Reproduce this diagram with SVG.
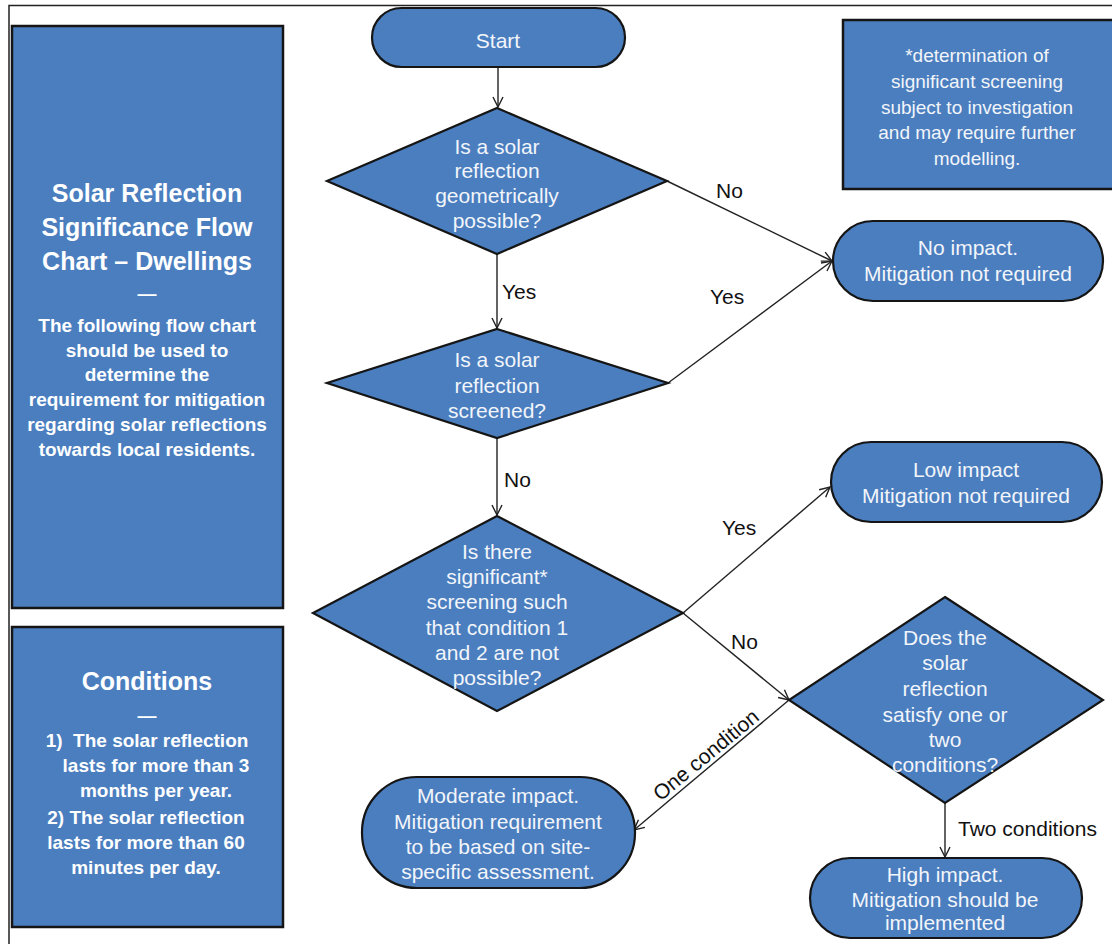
<svg xmlns="http://www.w3.org/2000/svg" width="1112" height="944" viewBox="0 0 1112 944">
<defs>
<marker id="arr" viewBox="0 0 12 12" refX="11" refY="6" markerWidth="12" markerHeight="12" markerUnits="userSpaceOnUse" orient="auto">
<path d="M1,1 L11,6 L1,11" fill="none" stroke="#222" stroke-width="1.4"/>
</marker>
<style>
.shape{fill:#4a7ebf;stroke:#151515;stroke-width:2.2}
.box{fill:#4a7ebf;stroke:#151515;stroke-width:2.5}
.t{font-family:"Liberation Sans",Arial,sans-serif;font-size:21px;fill:#f2f5fa;text-anchor:middle}
.note{font-family:"Liberation Sans",Arial,sans-serif;font-size:19px;fill:#f2f5fa;text-anchor:middle}
.title{font-family:"Liberation Sans",Arial,sans-serif;font-size:25px;font-weight:bold;fill:#ffffff;text-anchor:middle}
.body{font-family:"Liberation Sans",Arial,sans-serif;font-size:19px;font-weight:bold;fill:#ffffff;text-anchor:middle;white-space:pre}
.lbl{font-family:"Liberation Sans",Arial,sans-serif;font-size:21px;fill:#111}
.conn{fill:none;stroke:#222;stroke-width:1.4}
</style>
</defs>
<rect width="1112" height="944" fill="#ffffff"/>
<path d="M9,944 L9,5.5 L1112,5.5" fill="none" stroke="#222" stroke-width="1.5"/>

<g id="connectors">
<line class="conn" x1="498" y1="67" x2="498" y2="107" marker-end="url(#arr)"/>
<line class="conn" x1="497" y1="254" x2="497" y2="328" marker-end="url(#arr)"/>
<line class="conn" x1="497" y1="438" x2="497" y2="515" marker-end="url(#arr)"/>
<line class="conn" x1="667" y1="181" x2="832" y2="261" marker-end="url(#arr)"/>
<line class="conn" x1="668" y1="383" x2="832" y2="261" marker-end="url(#arr)"/>
<line class="conn" x1="683" y1="613" x2="830" y2="487" marker-end="url(#arr)"/>
<line class="conn" x1="683" y1="613" x2="789" y2="700" marker-end="url(#arr)"/>
<line class="conn" x1="789" y1="700" x2="634" y2="830" marker-end="url(#arr)"/>
<line class="conn" x1="945" y1="803" x2="945" y2="857" marker-end="url(#arr)"/>
<text class="lbl" x="502" y="299">Yes</text>
<text class="lbl" x="716" y="198">No</text>
<text class="lbl" x="710" y="304">Yes</text>
<text class="lbl" x="504" y="487">No</text>
<text class="lbl" x="722" y="535">Yes</text>
<text class="lbl" x="731" y="649">No</text>
<text class="lbl" x="958" y="836">Two conditions</text>
<text class="lbl" x="706" y="762" text-anchor="middle" transform="rotate(-39.6 706 755)">One condition</text>
</g>

<g id="title-box">
<rect class="box" x="12" y="26" width="271" height="582"/>
<text class="title" x="147" y="202">Solar Reflection</text>
<text class="title" x="147" y="236">Significance Flow</text>
<text class="title" x="147" y="270">Chart – Dwellings</text>
<text class="body" x="147" y="300">—</text>
<text class="body" x="147" y="332">The following flow chart</text>
<text class="body" x="147" y="357">should be used to</text>
<text class="body" x="147" y="381">determine the</text>
<text class="body" x="147" y="406">requirement for mitigation</text>
<text class="body" x="147" y="431">regarding solar reflections</text>
<text class="body" x="147" y="456">towards local residents.</text>
</g>

<g id="conditions-box">
<rect class="box" x="12" y="627" width="271" height="300"/>
<text class="title" x="147" y="690">Conditions</text>
<text class="body" x="147" y="722">—</text>
<text class="body" x="147" y="747">1)  The solar reflection</text>
<text class="body" x="156" y="772">lasts for more than 3</text>
<text class="body" x="156" y="797">months per year.</text>
<text class="body" x="146" y="824">2) The solar reflection</text>
<text class="body" x="146" y="849">lasts for more than 60</text>
<text class="body" x="146" y="874">minutes per day.</text>
</g>

<g id="note-box">
<rect class="box" x="843" y="20" width="275" height="169"/>
<text class="note" x="977" y="62">*determination of</text>
<text class="note" x="977" y="88">significant screening</text>
<text class="note" x="977" y="114">subject to investigation</text>
<text class="note" x="977" y="139">and may require further</text>
<text class="note" x="977" y="165">modelling.</text>
</g>

<g id="start">
<rect class="shape" x="372" y="8" width="253" height="59" rx="29.5"/>
<text class="t" x="498" y="48">Start</text>
</g>

<g id="q1">
<polygon class="shape" points="497,108 667,181 497,254 327,181"/>
<text class="t" x="497" y="154">Is a solar</text>
<text class="t" x="497" y="178">reflection</text>
<text class="t" x="497" y="203">geometrically</text>
<text class="t" x="497" y="228">possible?</text>
</g>

<g id="q2">
<polygon class="shape" points="497,329 668,383 497,438 327,383"/>
<text class="t" x="497" y="367">Is a solar</text>
<text class="t" x="497" y="393">reflection</text>
<text class="t" x="497" y="418">screened?</text>
</g>

<g id="q3">
<polygon class="shape" points="497,516 683,613 497,711 313,613"/>
<text class="t" x="497" y="559">Is there</text>
<text class="t" x="497" y="584">significant*</text>
<text class="t" x="497" y="609">screening such</text>
<text class="t" x="497" y="635">that condition 1</text>
<text class="t" x="497" y="660">and 2 are not</text>
<text class="t" x="497" y="685">possible?</text>
</g>

<g id="q4">
<polygon class="shape" points="945,597 1103,700 945,803 789,700"/>
<text class="t" x="945" y="645">Does the</text>
<text class="t" x="945" y="670">solar</text>
<text class="t" x="945" y="696">reflection</text>
<text class="t" x="945" y="722">satisfy one or</text>
<text class="t" x="945" y="747">two</text>
<text class="t" x="945" y="772">conditions?</text>
</g>

<g id="no-impact">
<rect class="shape" x="833" y="221" width="270" height="80" rx="40"/>
<text class="t" x="968" y="255">No impact.</text>
<text class="t" x="968" y="281">Mitigation not required</text>
</g>

<g id="low-impact">
<rect class="shape" x="831" y="442" width="271" height="80" rx="40"/>
<text class="t" x="966" y="477">Low impact</text>
<text class="t" x="966" y="503">Mitigation not required</text>
</g>

<g id="moderate-impact">
<rect class="shape" x="362" y="777" width="273" height="111" rx="55"/>
<text class="t" x="498" y="803">Moderate impact.</text>
<text class="t" x="498" y="829">Mitigation requirement</text>
<text class="t" x="498" y="854">to be based on site-</text>
<text class="t" x="498" y="879">specific assessment.</text>
</g>

<g id="high-impact">
<rect class="shape" x="810" y="858" width="272" height="80" rx="40"/>
<text class="t" x="945" y="882">High impact.</text>
<text class="t" x="945" y="907">Mitigation should be</text>
<text class="t" x="945" y="930">implemented</text>
</g>
</svg>
